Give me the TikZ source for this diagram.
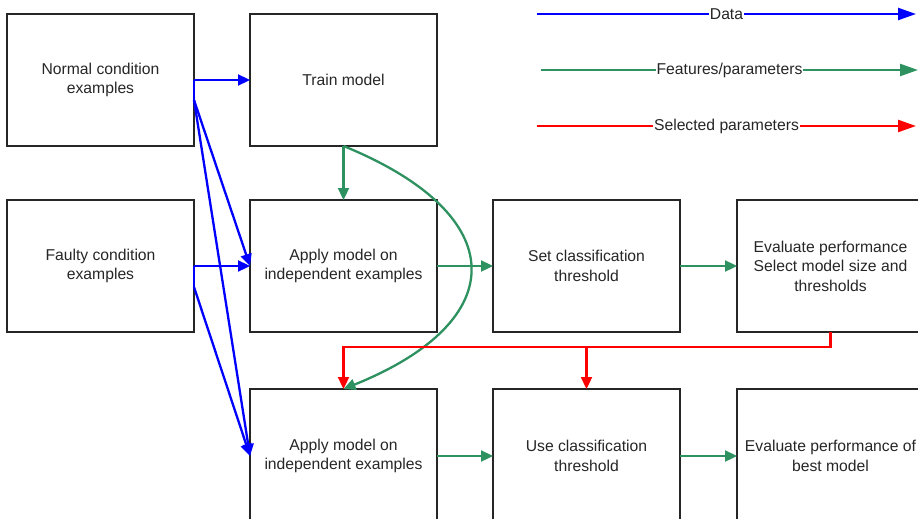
\documentclass[tikz,border=0pt]{standalone}
\usepackage{fontspec}
\setmainfont{Liberation Sans}
\usetikzlibrary{arrows.meta}
\usetikzlibrary{positioning}
\definecolor{datablue}{RGB}{0,0,255}
\definecolor{featgreen}{RGB}{46,145,96}
\definecolor{selred}{RGB}{255,0,0}

\begin{document}
\begin{tikzpicture}[
				node distance=56pt,
				font=\fontsize{15.7}{19.5}\selectfont,
				block/.style={draw=black!85, line width=1.2pt, outer sep=0pt, minimum width=187pt, minimum height=132pt, align=center, text=black!85},
				arrow/.style={line width=2.3pt, -{Triangle[length=12pt, width=11pt]}},
				legend/.style={line width=2.3pt, -{Triangle[length=18pt, width=12pt]}},
				data/.style={datablue},
				feat/.style={featgreen},
				sel/.style={selred},
			]
				\useasboundingbox (0pt,0pt) rectangle (918pt,-519pt);
				\node[block] (normal) at (100.5pt,-80pt) {Normal condition\\examples};
				\node[block, right=of normal] (train) {Train model};
				\node[block, below=54pt of normal] (faulty) {Faulty condition\\examples};
				\node[block, right=of faulty] (apply1) {Apply model on\\independent examples};
				\node[block, right=of apply1] (setthr) {Set classification\\threshold};
				\node[block, right=57pt of setthr] (evalsel) {Evaluate performance\\Select model size and\\thresholds};
				\node[block, below=of apply1, minimum height=134pt, yshift=-1pt] (apply2) {Apply model on\\independent examples};
				\node[block, right=of apply2, minimum height=134pt] (usethr) {Use classification\\threshold};
				\node[block, right=57pt of usethr, minimum height=134pt] (evalbest) {Evaluate performance of\\best model};

				\coordinate (dataA) at (537pt,-14pt);
				\coordinate (dataB) at (916pt,-14pt);
				\coordinate (featA) at (541pt,-70pt);
				\coordinate (featB) at (918pt,-70pt);
				\coordinate (selA) at (537pt,-126pt);
				\coordinate (selB) at (916pt,-126pt);
				\draw[legend, data] (dataA) -- (dataB) node[midway, fill=white, inner sep=1pt, text=black!85] {Data};
				\draw[legend, feat] (featA) -- (featB) node[midway, fill=white, inner sep=1pt, text=black!85] {Features/parameters};
				\draw[legend, sel] (selA) -- (selB) node[midway, fill=white, inner sep=1pt, text=black!85] {Selected parameters};

				\draw[arrow, data] (normal.east) -- (train.west);
				\draw[data, line width=2.3pt] (normal.east) -- ++(0,-20pt) coordinate (nsplit);
				\draw[arrow, data] (nsplit) -- (apply1.west);
				\draw[arrow, data] (nsplit) -- (apply2.west);
				\draw[arrow, data] (faulty.east) -- (apply1.west);
				\draw[data, line width=2.3pt] (faulty.east) -- ++(0,-21pt) coordinate (fsplit);
				\draw[arrow, data] (fsplit) -- (apply2.west);

				\draw[arrow, feat] (train.south) -- (apply1.north);
				\draw[arrow, feat] (train.south) .. controls +(169pt,-69pt) and +(169pt,68pt) .. (apply2.north);
				\draw[arrow, feat] (apply1) -- (setthr);
				\draw[arrow, feat] (setthr) -- (evalsel);
				\draw[arrow, feat] (apply2) -- (usethr);
				\draw[arrow, feat] (usethr) -- (evalbest);

				\draw[arrow, sel] (evalsel.south) -- ++(0,-15pt) coordinate (selturn) -| (apply2.north);
				\draw[arrow, sel] (selturn -| usethr.north) -- (usethr.north);
			\end{tikzpicture}
\end{document}
